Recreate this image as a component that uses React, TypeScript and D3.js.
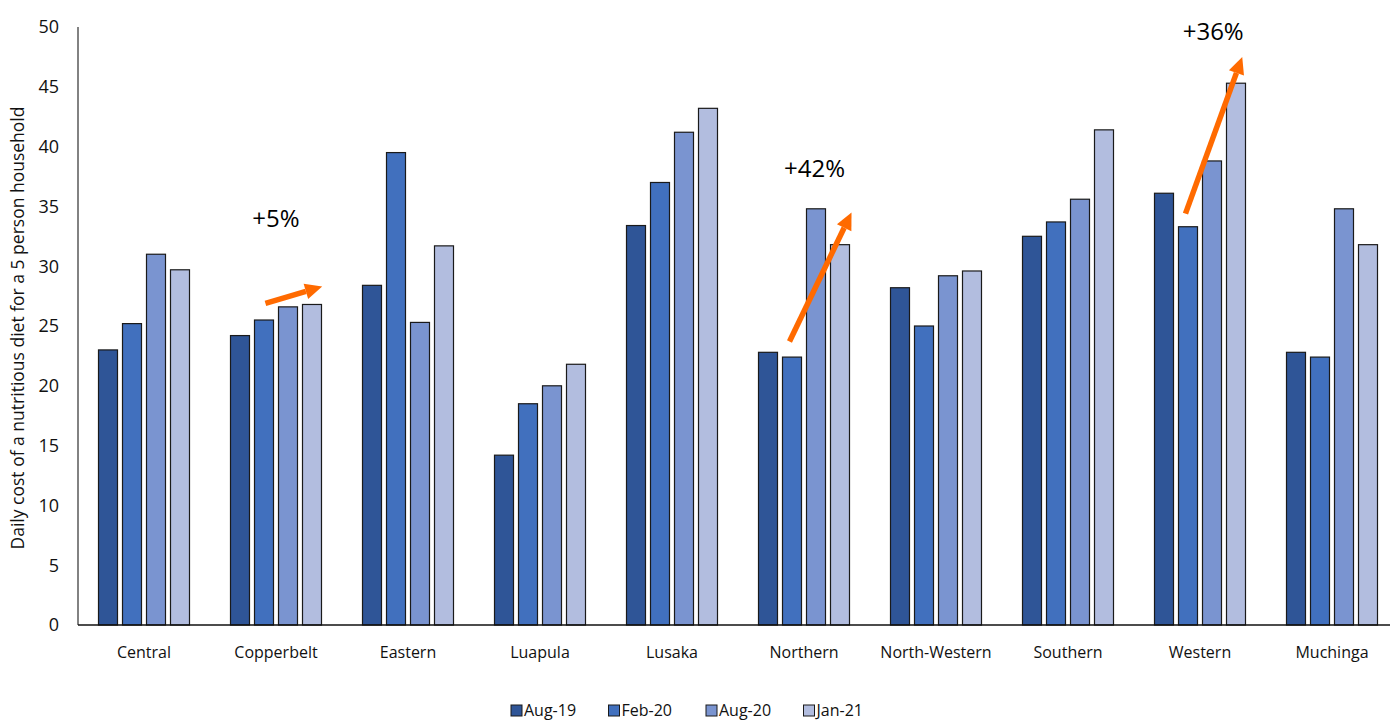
import React from "react";
import * as d3 from "d3";

const categories = ["Central", "Copperbelt", "Eastern", "Luapula", "Lusaka", "Northern", "North-Western", "Southern", "Western", "Muchinga"];
const seriesNames = ["Aug-19", "Feb-20", "Aug-20", "Jan-21"];
const aug19 = [23.0, 24.2, 28.4, 14.2, 33.4, 22.8, 28.2, 32.5, 36.1, 22.8];
const feb20 = [25.2, 25.5, 39.5, 18.5, 37.0, 22.4, 25.0, 33.7, 33.3, 22.4];
const aug20 = [31.0, 26.6, 25.3, 20.0, 41.2, 34.8, 29.2, 35.6, 38.8, 34.8];
const jan21 = [29.7, 26.8, 31.7, 21.8, 43.2, 31.8, 29.6, 41.4, 45.3, 31.8];
const yTicks = [0, 5, 10, 15, 20, 25, 30, 35, 40, 45, 50];
const colors = ["#2F5597", "#4170BE", "#7A94D0", "#B2BDDF"];

// annotations: category, arrow start (offset within band 0..1, value), arrow end, label, label value
const annotations = [
  { cat: "Copperbelt", x0: 0.42, v0: 26.9, x1: 0.85, v1: 28.3, label: "+5%", lx: 0.5, lv: 33.3 },
  { cat: "Northern", x0: 0.39, v0: 23.7, x1: 0.86, v1: 34.5, label: "+42%", lx: 0.58, lv: 37.5 },
  { cat: "Western", x0: 0.39, v0: 34.4, x1: 0.82, v1: 47.5, label: "+36%", lx: 0.6, lv: 48.9 },
];

const W = 1390, H = 722;
const margin = { left: 78, top: 27, bottom: 97 };
const plotRight = 1398;
const font = "'Open Sans', 'Noto Sans', sans-serif";

export default function App() {
  const x = d3.scaleBand<string>().domain(categories).range([margin.left, plotRight]).padding(0);
  const y = d3.scaleLinear().domain([0, 50]).range([H - margin.bottom, margin.top]);
  const series = [aug19, feb20, aug20, jan21];
  const barW = 19, step = 24;
  const groupW = step * 3 + barW;

  const arrowLine = (a: any) => {
    const bx = x(a.cat)!;
    const bw = x.bandwidth();
    const xs = bx + a.x0 * bw, ys = y(a.v0);
    const xe = bx + a.x1 * bw, ye = y(a.v1);
    const ang = Math.atan2(ye - ys, xe - xs);
    const hl = 17, hw = 8;
    const bxh = xe - hl * Math.cos(ang), byh = ye - hl * Math.sin(ang);
    const px = -Math.sin(ang), py = Math.cos(ang);
    const head = `M${xe},${ye} L${bxh + px * hw},${byh + py * hw} L${bxh - px * hw},${byh - py * hw} Z`;
    return (
      <g key={a.cat}>
        <line x1={xs} y1={ys} x2={bxh} y2={byh} stroke="#FF6A00" strokeWidth={5.5} />
        <path d={head} fill="#FF6A00" />
        <text x={bx + a.lx * bw} y={y(a.lv)} textAnchor="middle" fontSize={24} fill="#000" fontFamily={font}>{a.label}</text>
      </g>
    );
  };

  return (
    <svg width={W} height={H} style={{ position: "absolute", left: 0, top: 0, background: "#fff" }} fontFamily={font}>
      <rect width={W} height={H} fill="#fff" />
      {/* y tick labels */}
      {yTicks.map((t) => (
        <text key={t} x={margin.left - 19} y={y(t)} dy="0.35em" textAnchor="end" fontSize={18} fill="#111">{t}</text>
      ))}
      <text transform={`translate(24,${(y(0) + y(50)) / 2 + 2}) rotate(-90)`} textAnchor="middle" fontSize={17.5} fill="#111">
        Daily cost of a nutritious diet for a 5 person household
      </text>
      {/* bars */}
      {categories.map((c, i) => {
        const cx = x(c)! + x.bandwidth() / 2;
        const start = cx - groupW / 2;
        return (
          <g key={c}>
            {series.map((s, j) => (
              <rect key={j} x={start + j * step} y={y(s[i])} width={barW} height={y(0) - y(s[i])} fill={colors[j]} stroke="#1a1a1a" strokeWidth={1.2} />
            ))}
            <text x={cx} y={y(0) + 33} textAnchor="middle" fontSize={16} fill="#111">{c}</text>
          </g>
        );
      })}
      {/* axes */}
      <line x1={margin.left} x2={margin.left} y1={y(50)} y2={y(0)} stroke="#595959" strokeWidth={1.5} />
      <line x1={margin.left} x2={W} y1={y(0)} y2={y(0)} stroke="#111" strokeWidth={1.5} />
      {annotations.map(arrowLine)}
      {/* legend */}
      {seriesNames.map((n, j) => {
        const lx = 511 + j * 97.5;
        return (
          <g key={n}>
            <rect x={lx} y={705} width={11} height={11} fill={colors[j]} stroke="#1a1a1a" strokeWidth={1} />
            <text x={lx + 13} y={710.5} dy="0.35em" fontSize={16} fill="#111">{n}</text>
          </g>
        );
      })}
    </svg>
  );
}
